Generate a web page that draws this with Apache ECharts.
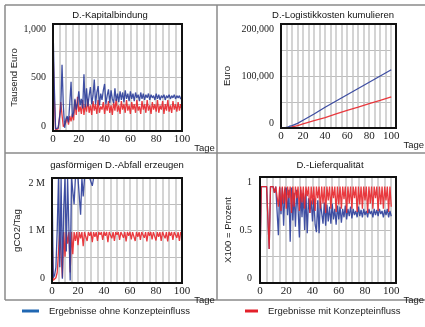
<!DOCTYPE html>
<html>
<head>
<meta charset="utf-8">
<script src="https://cdn.jsdelivr.net/npm/echarts@6/dist/echarts.min.js"></script>
<style>
  html, body { margin: 0; padding: 0; background: #fff; }
  #chart { width: 425px; height: 327px; }
</style>
</head>
<body>
<div id="chart"></div>
<script>
// Tage 0..100 (Tagesschritte)
var days = [];
for (var d = 0; d <= 100; d++) days.push(d);

// D.-Kapitalbindung (Tausend Euro)
var kapOhne = [
  1000, 420, 20, 25, 30, 40, 210, 620, 240, 30,
  110, 140, 80, 260, 460, 130, 170, 300, 200, 260,
  370, 240, 300, 210, 530, 220, 400, 230, 330, 410,
  250, 330, 480, 250, 360, 420, 240, 350, 290, 380,
  440, 250, 330, 390, 260, 380, 300, 260, 400, 280,
  350, 270, 370, 290, 360, 270, 380, 300, 350, 280,
  370, 300, 350, 280, 360, 310, 340, 280, 360, 300,
  350, 290, 340, 310, 350, 290, 340, 310, 330, 290,
  350, 300, 340, 290, 330, 310, 340, 290, 330, 310,
  340, 300, 330, 310, 340, 300, 330, 310, 330, 300,
  320
];
var kapMit = [
  800, 300, 10, 15, 20, 120, 270, 150, 40, 30,
  80, 130, 60, 140, 90, 160, 100, 290, 150, 320,
  180, 230, 160, 290, 150, 250, 180, 300, 170, 240,
  150, 280, 190, 250, 160, 290, 170, 230, 200, 270,
  160, 250, 190, 280, 170, 240, 150, 270, 190, 300,
  180, 240, 160, 280, 200, 250, 170, 290, 190, 240,
  160, 270, 200, 250, 170, 290, 190, 230, 160, 280,
  200, 250, 170, 290, 190, 240, 160, 270, 200, 250,
  180, 290, 170, 240, 200, 280, 160, 250, 190, 290,
  180, 240, 170, 280, 200, 250, 180, 270, 190, 250,
  200
];

// D.-Logistikkosten kumulieren (Euro)
var logTage = [0, 4, 6, 8, 10, 15, 20, 30, 40, 50, 60, 70, 80, 90, 100];
var logOhne = [0, 500, 1500, 3500, 4500, 9000, 15000, 27000, 40000, 52000, 64000, 76000, 88000, 100000, 112000];
var logMit = [0, 300, 600, 1200, 2000, 4500, 8000, 14000, 20000, 27000, 34000, 40000, 47000, 53000, 60000];

// gasförmigen D.-Abfall erzeugen (Mio. gCO2/Tag)
var gasOhne = [
  2, 0.1, 0.15, 0.3, 1.0, 2, 0.3, 2, 0.08, 1.4,
  2, 0.6, 2, 2, 0.05, 2, 2, 1.5, 2, 2,
  2, 2, 1.3, 2, 1.65, 2, 2, 2, 2, 2,
  2, 1.85, 2, 2, 2, 2, 2, 2, 2, 2,
  2, 2, 2, 2, 2, 2, 2, 2, 2, 2,
  2, 2, 2, 2, 2, 2, 2, 2, 2, 2,
  2, 2, 2, 2, 2, 2, 2, 2, 2, 2,
  2, 2, 2, 2, 2, 2, 2, 2, 2, 2,
  2, 2, 2, 2, 2, 2, 2, 2, 2, 2,
  2, 2, 2, 2, 2, 2, 2, 2, 2, 2,
  2
];
var gasMit = [
  0.95, 0.05, 0.05, 0.1, 0.2, 0.6, 0.97, 0.97, 0.1, 0.97,
  0.5, 0.97, 0.75, 0.97, 0.2, 0.97, 0.55, 0.97, 0.8, 0.97,
  0.72, 0.97, 0.85, 0.97, 0.7, 0.97, 0.88, 0.8, 0.97, 0.9,
  0.97, 0.78, 0.97, 0.88, 0.97, 0.8, 0.97, 0.92, 0.97, 0.82,
  0.97, 0.9, 0.97, 0.78, 0.97, 0.97, 0.85, 0.97, 0.8, 0.97,
  0.92, 0.97, 0.82, 0.97, 0.97, 0.86, 0.97, 0.79, 0.97, 0.9,
  0.97, 0.83, 0.97, 0.97, 0.8, 0.97, 0.88, 0.97, 0.82, 0.97,
  0.97, 0.86, 0.97, 0.79, 0.97, 0.9, 0.97, 0.83, 0.97, 0.97,
  0.81, 0.97, 0.88, 0.97, 0.8, 0.97, 0.97, 0.85, 0.97, 0.79,
  0.97, 0.9, 0.97, 0.82, 0.97, 0.97, 0.86, 0.97, 0.8, 0.97,
  0.9
];

// D.-Lieferqualität (X100 = Prozent)
var lqOhne = [
  0.2, 0.91, 0.91, 0.91, 0.91, 0.91, 0.91, 0.32, 0.91, 0.91,
  0.91, 0.85, 0.91, 0.91, 0.45, 0.9, 0.65, 0.9, 0.54, 0.88,
  0.9, 0.64, 0.88, 0.39, 0.9, 0.59, 0.85, 0.53, 0.88, 0.7,
  0.43, 0.88, 0.62, 0.85, 0.5, 0.84, 0.47, 0.8, 0.66, 0.78,
  0.58, 0.8, 0.55, 0.48, 0.78, 0.47, 0.77, 0.66, 0.56, 0.76,
  0.54, 0.74, 0.58, 0.72, 0.56, 0.75, 0.6, 0.7, 0.55, 0.73,
  0.6, 0.72, 0.57, 0.7, 0.62, 0.73, 0.6, 0.7, 0.63, 0.72,
  0.61, 0.7, 0.64, 0.68, 0.62, 0.72, 0.63, 0.69, 0.62, 0.7,
  0.64, 0.68, 0.62, 0.7, 0.65, 0.68, 0.62, 0.7, 0.64, 0.69,
  0.63, 0.7, 0.65, 0.68, 0.62, 0.69, 0.64, 0.7, 0.62, 0.68,
  0.63
];
var lqMit = [
  0.2, 0.91, 0.91, 0.91, 0.91, 0.91, 0.91, 0.32, 0.91, 0.91,
  0.91, 0.85, 0.91, 0.91, 0.72, 0.91, 0.68, 0.91, 0.75, 0.91,
  0.7, 0.91, 0.8, 0.91, 0.66, 0.91, 0.72, 0.91, 0.8, 0.91,
  0.68, 0.91, 0.76, 0.91, 0.7, 0.91, 0.82, 0.91, 0.66, 0.91,
  0.74, 0.91, 0.68, 0.91, 0.8, 0.91, 0.7, 0.91, 0.75, 0.91,
  0.66, 0.91, 0.78, 0.91, 0.7, 0.91, 0.8, 0.91, 0.67, 0.91,
  0.74, 0.91, 0.7, 0.91, 0.79, 0.91, 0.66, 0.91, 0.75, 0.91,
  0.7, 0.91, 0.8, 0.91, 0.67, 0.91, 0.74, 0.91, 0.7, 0.91,
  0.78, 0.91, 0.66, 0.91, 0.75, 0.91, 0.7, 0.91, 0.8, 0.91,
  0.68, 0.91, 0.74, 0.91, 0.7, 0.91, 0.78, 0.91, 0.67, 0.91,
  0.72
];

// Achsenbeschriftungen (0, Mitte, Max)
var ticksKap = ['0', '500', '1,000'];
var ticksLog = ['0', '100,000', '200,000'];
var ticksGas = ['0', '1 M', '2 M'];
var ticksLq = ['0', '0.5', '1'];

var nameOhne = 'Ergebnisse ohne Konzepteinfluss';
var nameMit = 'Ergebnisse mit Konzepteinfluss';

var blau = '#2b3d9a';
var rot = '#e8262b';

// Plotbereiche [left, top, width, height]
var grids = [
  [53, 24, 129, 107],
  [281, 24, 115, 104],
  [52, 178, 130, 105],
  [260, 177, 136, 106]
];

function xAx(gi, gap) {
  return {
    type: 'value', gridIndex: gi, min: 0, max: 100, interval: 5,
    axisLine: { show: false }, axisTick: { show: false },
    axisLabel: {
      formatter: function (v) { return v % 20 === 0 ? String(v) : ''; },
      fontFamily: 'Liberation Serif', fontSize: 11, color: '#222', margin: 3
    },
    splitLine: { show: true, lineStyle: { color: '#c6c6c6', width: 1.5 } },
    name: 'Tage', nameLocation: 'end', nameGap: gap,
    nameTextStyle: {
      fontFamily: 'Liberation Sans', fontSize: 9.5, color: '#222',
      verticalAlign: 'top', padding: [12, 0, 0, 0]
    }
  };
}

function yAx(gi, max, ticks, name, gap, margin) {
  return {
    type: 'value', gridIndex: gi, min: 0, max: max, interval: max / 4,
    axisLine: { show: false }, axisTick: { show: false },
    axisLabel: {
      margin: margin,
      fontFamily: 'Liberation Serif', fontSize: 10, color: '#222',
      formatter: function (v) {
        if (v === 0) return '{b|' + ticks[0] + '}';
        if (v === max / 2) return ticks[1];
        if (v === max) return '{t|' + ticks[2] + '}';
        return '';
      },
      rich: {
        t: { fontFamily: 'Liberation Serif', fontSize: 10, color: '#222', padding: [10, 0, 0, 0] },
        b: { fontFamily: 'Liberation Serif', fontSize: 10, color: '#222', padding: [0, 0, 10, 0] }
      }
    },
    splitLine: { show: true, lineStyle: { color: '#bdbdbd', width: 1 } },
    name: name, nameLocation: 'middle', nameGap: gap, nameRotate: 90,
    nameTextStyle: { fontFamily: 'Liberation Sans', fontSize: 9.5, color: '#222' }
  };
}

function serie(name, gi, xs, ys, color) {
  return {
    name: name, type: 'line', xAxisIndex: gi, yAxisIndex: gi,
    data: ys.map(function (v, i) { return [xs[i], v]; }),
    showSymbol: false, symbol: 'none', animation: false,
    lineStyle: { color: color, width: 1.3, opacity: 0.9 },
    itemStyle: { color: color }
  };
}

var titles = [
  ['D.-Kapitalbindung', 110, 15],
  ['D.-Logistikkosten kumulieren', 333, 15],
  ['gasförmigen D.-Abfall erzeugen', 117, 165],
  ['D.-Lieferqualität', 330, 165]
];

var graphic = [];
// Rahmen der Felder
[[5, 5, 425, 5], [5, 153, 425, 153], [5, 300, 425, 300], [5, 5, 5, 300], [217, 5, 217, 300]].forEach(function (l) {
  graphic.push({ type: 'line', shape: { x1: l[0], y1: l[1], x2: l[2], y2: l[3] },
    style: { stroke: '#8a8a8a', lineWidth: 1.5 }, silent: true });
});
grids.forEach(function (g) {
  graphic.push({ type: 'rect', z: 100, shape: { x: g[0], y: g[1], width: g[2], height: g[3] },
    style: { fill: 'none', stroke: '#111', lineWidth: 2 }, silent: true });
});
titles.forEach(function (t) {
  graphic.push({ type: 'text', x: t[1], y: t[2], silent: true,
    style: { text: t[0], fill: '#111', font: '9.5px "Liberation Sans"', textAlign: 'center', textVerticalAlign: 'middle' } });
});

var chart = echarts.init(document.getElementById('chart'));
chart.setOption({
  animation: false,
  grid: grids.map(function (g) {
    return { left: g[0], top: g[1], width: g[2], height: g[3], containLabel: false };
  }),
  xAxis: [xAx(0, 10), xAx(1, 9), xAx(2, 11), xAx(3, 6)],
  yAxis: [
    yAx(0, 1000, ticksKap, 'Tausend Euro', 34, 7),
    yAx(1, 200000, ticksLog, 'Euro', 49, 7),
    yAx(2, 2, ticksGas, 'gCO2/Tag', 30, 7),
    yAx(3, 1, ticksLq, 'X100 = Prozent', 27, 8)
  ],
  legend: [
    { left: 22, top: 306, padding: 0, icon: 'rect', itemWidth: 17, itemHeight: 3, selectedMode: false,
      textStyle: { fontFamily: 'Liberation Sans', fontSize: 9.5, color: '#222', padding: [0, 0, 0, 5] },
      data: [{ name: nameOhne, itemStyle: { color: '#2067b2' } }] },
    { left: 245, top: 306, padding: 0, icon: 'rect', itemWidth: 13, itemHeight: 3, selectedMode: false,
      textStyle: { fontFamily: 'Liberation Sans', fontSize: 9.5, color: '#222', padding: [0, 0, 0, 5] },
      data: [{ name: nameMit, itemStyle: { color: '#e3202a' } }] }
  ],
  graphic: graphic,
  series: [
    serie(nameMit, 0, days, kapMit, rot),
    serie(nameOhne, 0, days, kapOhne, blau),
    serie(nameMit, 1, logTage, logMit, rot),
    serie(nameOhne, 1, logTage, logOhne, blau),
    serie(nameMit, 2, days, gasMit, rot),
    serie(nameOhne, 2, days, gasOhne, blau),
    serie(nameOhne, 3, days, lqOhne, blau),
    serie(nameMit, 3, days, lqMit, rot)
  ]
});
window.addEventListener('resize', function () { chart.resize(); });
</script>
</body>
</html>
